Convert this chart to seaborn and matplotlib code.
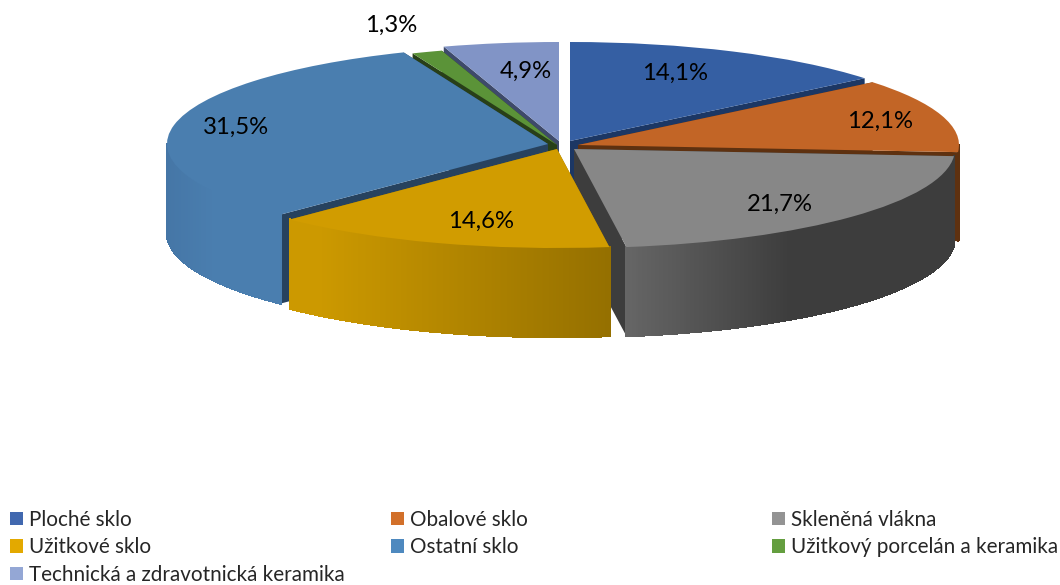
import matplotlib
matplotlib.use('Agg')
import matplotlib.pyplot as plt
from matplotlib.collections import PolyCollection
from matplotlib.colors import to_rgb
from matplotlib.patches import Patch
import numpy as np
import seaborn as sns

# data
kategorie = ['Ploché sklo', 'Obalové sklo', 'Skleněná vlákna', 'Užitkové sklo',
             'Ostatní sklo', 'Užitkový porcelán a keramika',
             'Technická a zdravotnická keramika']
podil = [14.1, 12.1, 21.7, 14.6, 31.5, 1.3, 4.9]

# colours: top of slice, radial wall, legend
barvy_top = ['#355FA3', '#C26526', '#878787', '#D19C00', '#4A7EAF', '#5B9338', '#8194C6']
barvy_bok = ['#1C3764', '#5E3110', '#3D3D3D', '#957000', '#27425E', '#283F18', '#3E4A6A']
barvy_leg = ['#4168AF', '#D2702A', '#939393', '#E3A900', '#4E89BF', '#649E3F', '#94A7D5']
# rim gradient: left colour, right colour, x pixels over which it changes
rim = [('#1C3764', '#1C3764', 100, 101), ('#5E3110', '#5E3110', 100, 101),
       ('#666666', '#3D3D3D', 625, 790), ('#CC9900', '#957000', 320, 609),
       ('#4576A6', '#4A7EAF', 167, 215), ('#283F18', '#283F18', 100, 101),
       ('#3E4A6A', '#3E4A6A', 100, 101)]

# layout in pixels
W, H = 1060, 585
RX, RY, HLOUBKA = 381, 99, 89
X0, Y0 = 560, 145
stredy = [(570, 141), (578, 145), (574, 149), (557, 149), (548, 144), (557, 145), (559, 141)]
poradi = [0, 1, 2, 6, 5, 4, 3]  # back to front
popisky = [(675, 73), (880, 121), (780, 204), (481, 221), (236, 127), (391, 25), (526, 71)]


def dx(px):
    return (px - X0) / RX


def dy(py):
    return (Y0 - py) / RY


sns.set_theme(style='white')
plt.rcParams['font.family'] = ['Lato', 'DejaVu Sans']

fig = plt.figure(figsize=(W / 100, H / 100), dpi=100)
ax = fig.add_axes([0, 0, 1, 1])

wedges, _ = ax.pie(podil, colors=sns.color_palette(barvy_top), startangle=90,
                   counterclock=False, radius=1)
ax.set_aspect('auto')
ax.set_xlim(dx(0), dx(W))
ax.set_ylim(dy(H), dy(0))
ax.axis('off')

hl = HLOUBKA / RY
for z, i in enumerate(poradi):
    w = wedges[i]
    cx, cy = dx(stredy[i][0]), dy(stredy[i][1])
    w.set_center((cx, cy))
    w.set_linewidth(0)
    w.set_zorder(10 + 3 * z + 2)

    # radial walls, taken from the angles of the wedge
    for t in (w.theta1, w.theta2):
        ex, ey = cx + np.cos(np.radians(t)), cy + np.sin(np.radians(t))
        ax.fill([cx, ex, ex, cx], [cy, ey, ey - hl, cy - hl], color=barvy_bok[i],
                lw=0, zorder=10 + 3 * z)

    # outer wall, front part only
    t = np.radians(np.linspace(w.theta1, w.theta2, 241))
    xs, ys = cx + np.cos(t), cy + np.sin(t)
    quads, cols = [], []
    c0, c1, p0, p1 = rim[i]
    c0, c1 = np.array(to_rgb(c0)), np.array(to_rgb(c1))
    for k in range(len(t) - 1):
        if np.sin(t[k]) > 0 or np.sin(t[k + 1]) > 0:
            continue
        quads.append([(xs[k], ys[k]), (xs[k + 1], ys[k + 1]),
                      (xs[k + 1], ys[k + 1] - hl), (xs[k], ys[k] - hl)])
        px = stredy[i][0] + RX * np.cos(t[k])
        f = np.clip((px - p0) / (p1 - p0), 0, 1)
        cols.append(c0 + (c1 - c0) * f)
    if quads:
        ax.add_collection(PolyCollection(quads, facecolors=cols, edgecolors=cols,
                                         linewidths=1.0, antialiaseds=False,
                                         zorder=10 + 3 * z + 1))

for v, (px, py) in zip(podil, popisky):
    fig.text(px / W, 1 - py / H, f'{v:.1f}%'.replace('.', ','), ha='center', va='center',
             fontsize=17.2, color='black', zorder=50)

# legend, one per column so the columns stay on the grid of the original
sloupce = [([0, 3, 6], 10), ([1, 4], 391), ([2, 5], 772)]
for idx, x in sloupce:
    h = [Patch(facecolor=barvy_leg[i], lw=0) for i in idx]
    fig.legend(h, [kategorie[i] for i in idx], loc='upper left',
               bbox_to_anchor=(x / W, 1 - 510 / H), borderaxespad=0, borderpad=0,
               frameon=False, fontsize=14.85, handlelength=0.63, handleheight=0.63,
               handletextpad=0.3, labelspacing=0.36)

fig.savefig('out.png', dpi=100)
